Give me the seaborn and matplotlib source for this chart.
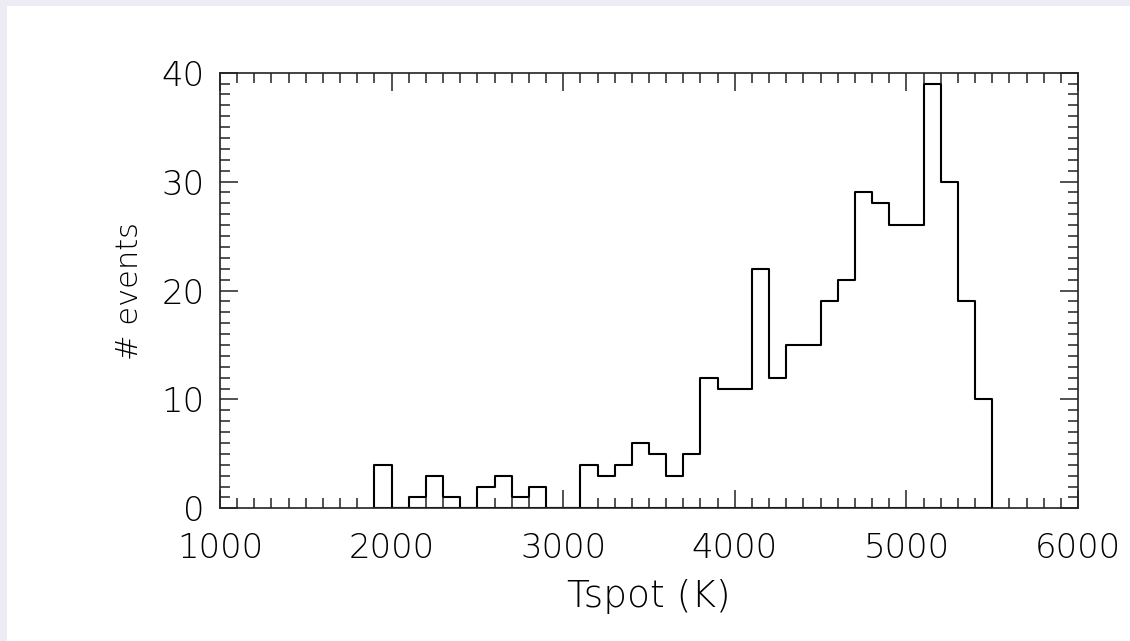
import matplotlib
matplotlib.use("Agg")
import matplotlib.pyplot as plt
from matplotlib.patches import Rectangle
from matplotlib.ticker import MultipleLocator
import seaborn as sns

# bin lower edges (K) and counts per 100 K bin
tspot_bins = [1900, 2000, 2100, 2200, 2300, 2400, 2500, 2600, 2700, 2800,
              2900, 3000, 3100, 3200, 3300, 3400, 3500, 3600, 3700, 3800,
              3900, 4000, 4100, 4200, 4300, 4400, 4500, 4600, 4700, 4800,
              4900, 5000, 5100, 5200, 5300, 5400]
n_events = [4, 0, 1, 3, 1, 0, 2, 3, 1, 2,
            0, 0, 4, 3, 4, 6, 5, 3, 5, 12,
            11, 11, 22, 12, 15, 15, 19, 21, 29, 28,
            26, 26, 39, 30, 19, 10]
bin_width = 100
x_ticks = [1000, 2000, 3000, 4000, 5000, 6000]
y_ticks = [0, 10, 20, 30, 40]

sns.set_style("white")
plt.rcParams["font.family"] = ["DejaVu Sans"]
plt.rcParams["font.weight"] = "light"

fig = plt.figure(figsize=(11.3, 6.41), dpi=100)
fig.patch.set_facecolor("white")
# light page border along top and left edges
for r in [(0, 1 - 6 / 641, 1, 6 / 641), (0, 0, 7 / 1130, 1)]:
    fig.patches.append(Rectangle(r[:2], r[2], r[3], transform=fig.transFigure,
                                 facecolor="#edecf4", edgecolor="none"))

ax = fig.add_axes([220 / 1130, 1 - 508.3 / 641, 858 / 1130, 435.6 / 641])

edges = tspot_bins + [tspot_bins[-1] + bin_width]
sns.histplot(x=tspot_bins, weights=n_events, bins=edges, element="step",
             fill=True, color="black", facecolor="none", edgecolor="black",
             linewidth=1.5, ax=ax)

ax.set_xlim(x_ticks[0], x_ticks[-1])
ax.set_ylim(y_ticks[0], y_ticks[-1])
ax.set_xticks(x_ticks)
ax.set_yticks(y_ticks)
ax.xaxis.set_minor_locator(MultipleLocator(100))
ax.yaxis.set_minor_locator(MultipleLocator(1))

for s in ax.spines.values():
    s.set_visible(True)
    s.set_color("#222222")
    s.set_linewidth(1.2)

ax.tick_params(which="both", direction="in", top=True, right=True,
               bottom=True, left=True, color="#222222", width=1.1,
               labelsize=24.5, labelcolor="black")
ax.tick_params(which="major", length=13)
ax.tick_params(which="minor", length=7)
ax.tick_params(axis="x", which="major", pad=17)
ax.tick_params(axis="y", which="major", pad=11)

ax.set_xlabel("Tspot (K)", fontsize=27, color="black", fontweight="light")
ax.set_ylabel("# events", fontsize=22, color="black", fontweight="light")
ax.xaxis.set_label_coords(0.5, -0.162)
ax.yaxis.set_label_coords(-0.088, 0.5)

fig.savefig("out.png", dpi=100, facecolor=fig.get_facecolor())
